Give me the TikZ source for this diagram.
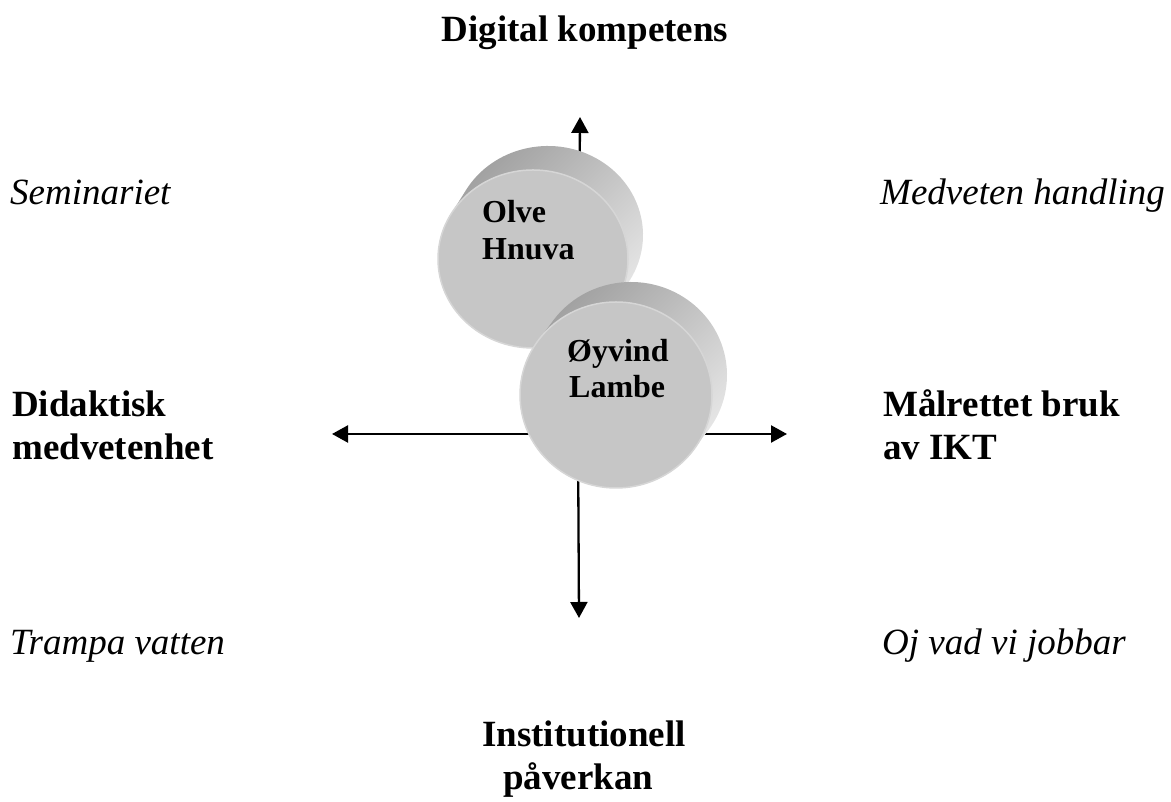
\documentclass[tikz,border=0pt]{standalone}
\usepackage{fontspec}
\setmainfont{Liberation Serif}
\usetikzlibrary{arrows.meta}
\definecolor{facegray}{RGB}{198,198,198}
\definecolor{rimgray}{RGB}{214,214,214}
\definecolor{sidedark}{RGB}{155,155,155}
\definecolor{sidelight}{RGB}{238,238,238}
\begin{document}
\begin{tikzpicture}[x=1pt,y=1pt,
  axisarrow/.style={line width=2.3pt,-{Triangle[length=16pt,width=17pt]}},
  bigbold/.style={font=\fontsize{37}{43}\selectfont\bfseries,inner sep=0pt},
  quadrant/.style={font=\fontsize{37}{43}\selectfont\itshape,inner sep=0pt,anchor=base west},
  pucktext/.style={font=\fontsize{32}{37}\selectfont\bfseries,inner sep=0pt,anchor=base west},
  side/.style={shading=axis,top color=sidedark,bottom color=sidelight,shading angle=45},
  face/.style={fill=facegray,draw=rimgray,line width=1.5pt}]
\useasboundingbox (0,0) rectangle (1171,802);

% axes
\coordinate (O) at (578,368);
\coordinate (up) at (580,685);
\coordinate (down) at (579,184);
\coordinate (left) at (332,368);
\coordinate (right) at (787,368);
\draw[axisarrow] (O) -- (up);
\draw[axisarrow] (O) -- (down);
\draw[axisarrow] (O) -- (left);
\draw[axisarrow] (O) -- (right);

% first puck
\begin{scope}[shift={(533,543)}]
  \shade[side] ({15+95*cos(-30.3)},{24+89*sin(-30.3)})
    arc[start angle=-30.3,end angle=149.7,x radius=95,y radius=89]
    -- ({95*cos(149.7)},{89*sin(149.7)})
    arc[start angle=149.7,end angle=329.7,x radius=95,y radius=89] -- cycle;
  \path[face] (0,0) ellipse[x radius=95,y radius=89];
\end{scope}
\node[pucktext] (olve) at (482,579) {Olve};
\node[pucktext] (hnuva) at (482,542) {Hnuva};

% second puck
\begin{scope}[shift={(616,407)}]
  \shade[side] ({15+96*cos(-36)},{20+93*sin(-36)})
    arc[start angle=-36,end angle=144,x radius=96,y radius=93]
    -- ({96*cos(144)},{93*sin(144)})
    arc[start angle=144,end angle=324,x radius=96,y radius=93] -- cycle;
  \path[face] (0,0) ellipse[x radius=96,y radius=93];
\end{scope}
\node[pucktext] (oyvind) at (567,440) {Øyvind};
\node[pucktext] (lambe) at (569,404) {Lambe};

% axis titles
\node[bigbold,anchor=base] (digital) at (585,760) {Digital kompetens};
\node[bigbold,anchor=base west] (didA) at (12,385) {Didaktisk};
\node[bigbold,anchor=base west] (didB) at (12,342) {medvetenhet};
\node[bigbold,anchor=base west] (malA) at (883,385) {Målrettet bruk};
\node[bigbold,anchor=base west] (malB) at (883,342) {av IKT};
\node[bigbold,anchor=base west] (instA) at (482,55) {Institutionell};
\node[bigbold,anchor=base west] (instB) at (503,12) {påverkan};

% quadrant labels
\node[quadrant] (sem) at (10,597) {Seminariet};
\node[quadrant] (medv) at (880,597) {Medveten handling};
\node[quadrant] (tramp) at (10,147) {Trampa vatten};
\node[quadrant] (oj) at (882,147) {Oj vad vi jobbar};
\end{tikzpicture}
\end{document}
